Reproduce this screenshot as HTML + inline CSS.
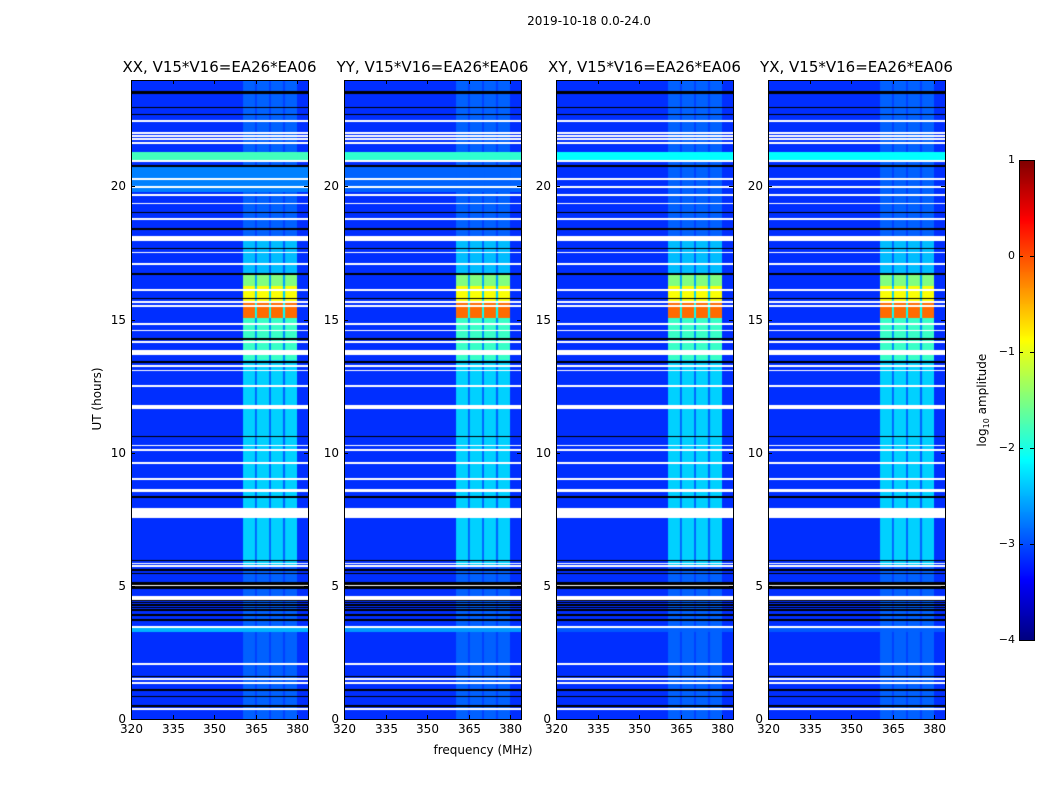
<!DOCTYPE html>
<html><head><meta charset="utf-8">
<style>
body{margin:0;background:#fff;}
#root{position:relative;width:1050px;height:800px;background:#fff;font-family:"DejaVu Sans","Liberation Sans",sans-serif;color:#000;overflow:hidden;}
.t{position:absolute;white-space:nowrap;}
canvas{position:absolute;}
svg{position:absolute;left:0;top:0;}
</style></head>
<body>
<div id="root">
<div class="t" style="left:489px;top:14px;width:200px;text-align:center;font-size:12px;">2019-10-18 0.0-24.0</div>
<div class="t" style="left:383px;top:743px;width:200px;text-align:center;font-size:12px;">frequency (MHz)</div>
<div class="t" style="left:47px;top:392px;width:100px;text-align:center;font-size:12px;transform:rotate(-90deg);">UT (hours)</div>
<div class="t" style="left:923px;top:392px;width:120px;text-align:center;font-size:12px;transform:rotate(-90deg);">log<sub style="font-size:8px">10</sub> amplitude</div>
<canvas id="cbar" width="15" height="480" style="left:1019px;top:160px;"></canvas>
<svg id="ov" width="1050" height="800"></svg>
</div>
<script>
// ---- data ----
const panelTitles = ["XX, V15*V16=EA26*EA06","YY, V15*V16=EA26*EA06","XY, V15*V16=EA26*EA06","YX, V15*V16=EA26*EA06"];
const panelLeft = [131,344,556,768];
const xTicks = [320,335,350,365,380];
const yTicks = [0,5,10,15,20];
const cbarTicks = [1,0,-1,-2,-3,-4];
const baseLevel = -3.15;
const freqCols = [[360.5,364.8],[365.5,369.9],[370.6,374.9],[375.7,380]];
const bandTimes = [[0,5.8,-2.9],[5.8,13.5,-2.35],[13.5,15.05,-1.85],[15.05,15.65,-0.15],[15.65,16.25,-0.9],[16.25,16.7,-1.5],[16.7,18,-2.45],[18,24,-2.9]];
const brightRows = [[21.0,21.3,-1.8],[19.8,20.8,-2.75],[3.26,3.42,-2.5]];
const brightRowPanelScale = [1.0,0.95,0.85,0.85];
const whiteLines = [22.46,22.02,21.9,21.77,21.65,20.96,20.27,19.99,19.69,19.36,18.77,17.52,17.09,16.12,15.67,15.52,14.84,14.59,14.15,13.27,13.09,12.52,11.74,11.69,10.27,10.11,9.63,9.02,8.6,8.56,5.84,5.75,4.59,4.5,3.46,2.05,1.49,1.36,0.36];
const whiteBands = [[17.96,18.15],[13.68,13.87],[7.56,7.94],[4.99,5.05]];
const blackLines = [22.96,22.71,20.77,19.02,18.4,17.67,16.71,15.8,14.27,13.4,10.61,8.34,5.96,5.59,5.46,4.46,4.37,4.28,4.19,4.09,3.9,3.71,1.59,1.09,0.84,0.49];
const blackBands = [[23.46,23.58],[4.9,5.15]];

// ---- scales ----
const axTop = 80, axH = 639, axW = 177, fMin = 320, pxPerMHz = 2.767;
function xPix(f){return (f-fMin)*pxPerMHz;}
function yPix(t){return axH*(1-t/24);}
function jet(v){
  let x=(v+4)/5; x=Math.max(0,Math.min(1,x));
  const c=a=>Math.round(255*Math.max(0,Math.min(1,a)));
  return `rgb(${c(1.5-Math.abs(4*x-3))},${c(1.5-Math.abs(4*x-2))},${c(1.5-Math.abs(4*x-1))})`;
}
function inLines(t,arr,hw){return arr.some(c=>Math.abs(t-c)<hw);}
function inBands(t,arr){return arr.some(b=>t>=b[0]&&t<=b[1]);}

const root=document.getElementById('root');
const ov=document.getElementById('ov');
const NS='http://www.w3.org/2000/svg';
function line(x1,y1,x2,y2,name){
  const l=document.createElementNS(NS,'line');
  l.setAttribute('x1',x1);l.setAttribute('y1',y1);l.setAttribute('x2',x2);l.setAttribute('y2',y2);
  l.setAttribute('stroke','#000');l.setAttribute('stroke-width','1');
  
  
  ov.appendChild(l);
}
function label(txt,x,y,w,align,size,name){
  const d=document.createElement('div');
  d.className='t';d.textContent=txt;
  d.style.left=x+'px';d.style.top=y+'px';d.style.width=w+'px';d.style.textAlign=align;d.style.fontSize=size+'px';
  
  
  root.appendChild(d);
}

panelLeft.forEach((L,p)=>{
  const cv=document.createElement('canvas');
  cv.width=axW;cv.height=axH;cv.style.left=L+'px';cv.style.top=axTop+'px';
  
  
  root.insertBefore(cv,ov);
  const ctx=cv.getContext('2d');
  for(let y=0;y<axH;y++){
    const t=24*(1-(y+0.5)/axH);
    if(inBands(t,whiteBands)||inLines(t,whiteLines,0.035)){ctx.fillStyle='#fff';ctx.fillRect(0,y,axW,1);continue;}
    if(inBands(t,blackBands)||inLines(t,blackLines,0.03)){ctx.fillStyle='#000';ctx.fillRect(0,y,axW,1);continue;}
    let base=baseLevel;
    brightRows.forEach(r=>{if(t>=r[0]&&t<=r[1]) base=Math.max(base, r[2]/brightRowPanelScale[p]);});
    ctx.fillStyle=jet(base);ctx.fillRect(0,y,axW,1);
    let band=baseLevel;
    bandTimes.forEach(b=>{if(t>=b[0]&&t<b[1]) band=b[2];});
    band=Math.max(band,base);
    ctx.fillStyle=jet(base+(band-base)*0.35);
    ctx.fillRect(xPix(freqCols[0][0]),y,xPix(freqCols[freqCols.length-1][1])-xPix(freqCols[0][0]),1);
    ctx.fillStyle=jet(band);
    freqCols.forEach(c=>ctx.fillRect(xPix(c[0]),y,xPix(c[1])-xPix(c[0]),1));
  }
  const R=L+axW, B=axTop+axH;
  line(L+0.5,axTop,L+0.5,B,'axis-frame-left');
  line(R+0.5,axTop,R+0.5,B,'axis-frame-right');
  line(L,axTop+0.5,R,axTop+0.5,'axis-frame-top');
  line(L,B+0.5,R+1,B+0.5,'axis-frame-bottom');
  xTicks.forEach(f=>{
    const x=Math.round(L+xPix(f))+0.5;
    line(x,B,x,B-4,'x-tick');line(x,axTop,x,axTop+4,'x-tick');
    label(String(f),x-20,B+3,40,'center',12,'x-tick-label');
  });
  yTicks.forEach(h=>{
    const y=Math.round(axTop+yPix(h))+0.5;
    line(L,y,L+4,y,'y-tick');line(R,y,R-4,y,'y-tick');
    label(String(h),L-45,y-8,40,'right',12,'y-tick-label');
  });
  label(panelTitles[p],L+axW/2-110,58,220,'center',15,'panel-title-'+(p+1));
});

const cb=document.getElementById('cbar').getContext('2d');
for(let y=0;y<480;y++){const v=1-5*(y+0.5)/480;cb.fillStyle=jet(v);cb.fillRect(0,y,15,1);}
line(1019.5,160,1019.5,640,'colorbar-frame');line(1034.5,160,1034.5,640,'colorbar-frame');
line(1019,160.5,1035,160.5,'colorbar-frame');line(1019,640.5,1035,640.5,'colorbar-frame');
cbarTicks.forEach(v=>{
  const y=Math.round(160+(1-v)/5*480)+0.5;
  line(1019,y,1023,y,'colorbar-tick');line(1034,y,1030,y,'colorbar-tick');
  label(v<0?'\u2212'+(-v):String(v),975,y-8,40,'right',11,'colorbar-tick-label');
});
</script>
</body></html>
